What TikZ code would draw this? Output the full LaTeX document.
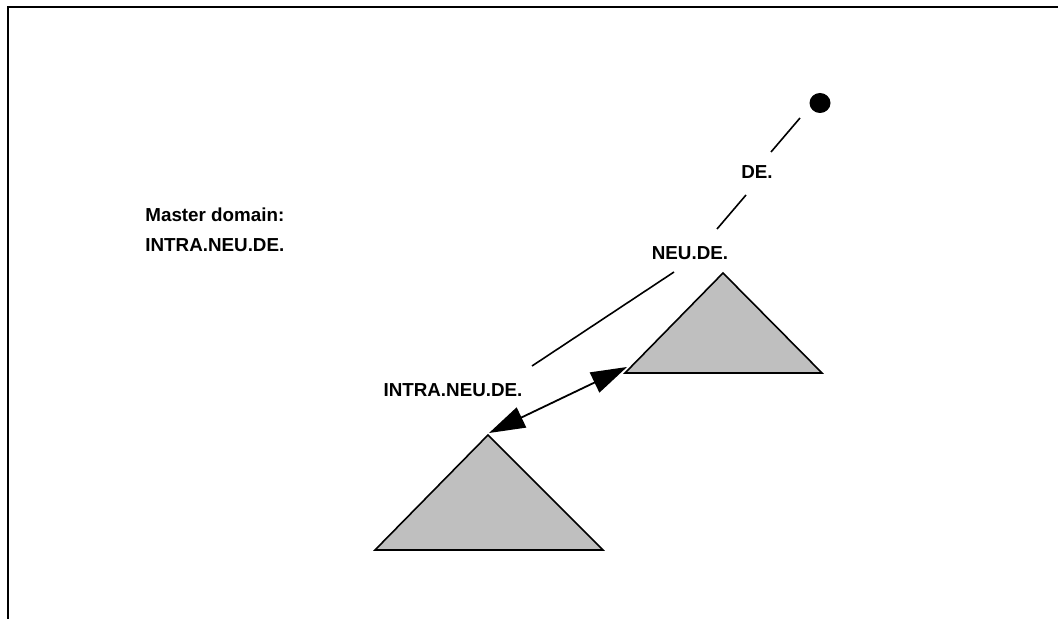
\documentclass[tikz,border=0pt]{standalone}
\usepackage{fontspec}
\setmainfont{Liberation Sans}
\usetikzlibrary{arrows.meta,shapes.geometric}
\begin{document}
\begin{tikzpicture}[x=0.5pt,y=-0.5pt,
  lbl/.style={font=\bfseries\fontsize{9.4pt}{11pt}\selectfont, inner sep=0pt},
  tri/.style={draw=black, fill=black!25, line width=0.8pt, line join=miter},
  conn/.style={line width=0.8pt},
  dbl/.style={line width=0.9pt, {Triangle[length=18pt,width=11pt]}-{Triangle[length=18pt,width=11pt]}}]
\useasboundingbox (0,0) rectangle (1058,619);
% frame
\draw[line width=1pt] (7.5,619) -- (7.5,7.5) -- (1058,7.5);
% root
\node[fill=black, ellipse, minimum width=10.5pt, minimum height=10pt, inner sep=0pt] (root) at (820,103) {};
% labels
\node[lbl] (de) at (757,172) {DE.};
\node[lbl] (neu) at (690,253) {NEU.DE.};
\node[lbl] (intra) at (453,390) {INTRA.NEU.DE.};
\node[lbl, anchor=west] (m1) at (145,215) {Master domain:};
\node[lbl, anchor=west] (m2) at (145,245) {INTRA.NEU.DE.};
% tree edges
\coordinate (e1a) at (800,118); \coordinate (e1b) at (771,152);
\coordinate (e2a) at (746,195); \coordinate (e2b) at (717,229);
\coordinate (e3a) at (674,272); \coordinate (e3b) at (532,366);
\draw[conn] (e1a) -- (e1b);
\draw[conn] (e2a) -- (e2b);
\draw[conn] (e3a) -- (e3b);
% domain triangles
\coordinate (ua) at (723,273); \coordinate (ul) at (625,373); \coordinate (ur) at (822,373);
\coordinate (la) at (488,435); \coordinate (ll) at (375,550); \coordinate (lr) at (603,550);
\draw[tri] (ua) -- (ur) -- (ul) -- cycle;
\draw[tri] (la) -- (lr) -- (ll) -- cycle;
% trust relation
\coordinate (t1) at (489,433); \coordinate (t2) at (627,367);
\draw[dbl] (t1) -- (t2);
\end{tikzpicture}
\end{document}
